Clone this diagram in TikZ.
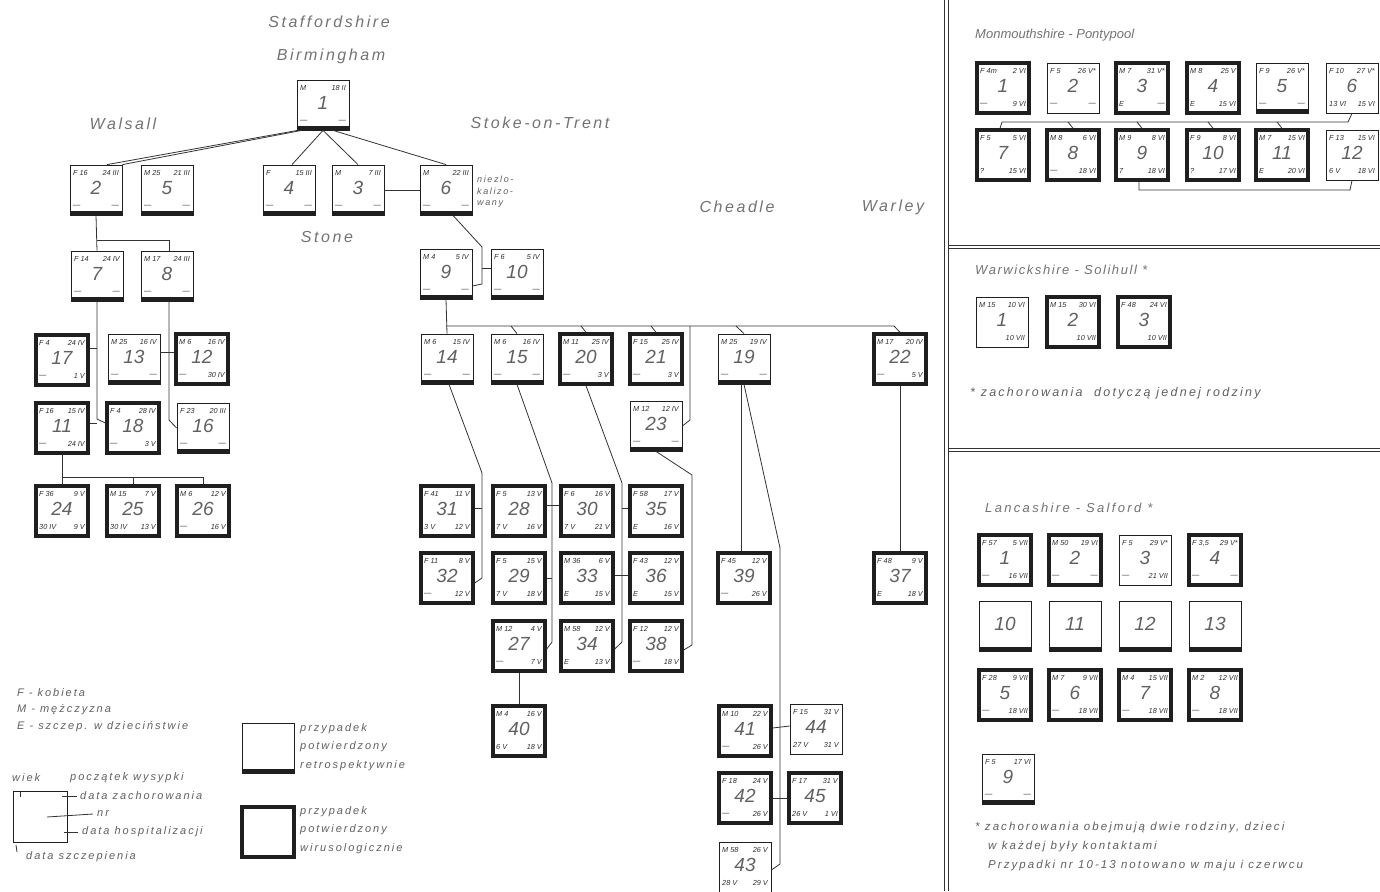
\documentclass[tikz,border=0pt]{standalone}
\usepackage{fontspec}
\setmainfont{Liberation Sans}
\newfontfamily\lbl[LetterSpace=16]{Liberation Sans}
\newfontfamily\lbs[LetterSpace=18]{Liberation Sans}
\newfontfamily\lbr[LetterSpace=12]{Liberation Sans}
\tikzset{
 base/.style={rectangle, minimum width=52pt, minimum height=50pt, inner sep=0pt, draw=black!88},
 vbox/.style={base, line width=3.4pt},
 rbox/.style={base, line width=0.8pt, path picture={\fill[black!88] ([yshift=3.6pt]path picture bounding box.south west) rectangle (path picture bounding box.south east);}},
 pbox/.style={base, line width=0.8pt},
 ct/.style={font=\fontsize{7.3}{8}\selectfont\itshape, text=black!82, inner sep=0pt},
 cn/.style={font=\fontsize{19}{20}\selectfont\itshape, text=black!62, inner sep=0pt},
 ttl/.style={font=\lbl\fontsize{16}{18}\selectfont\itshape, text=black!55, inner sep=0pt},
 rtl/.style={font=\lbr\fontsize{13}{15}\selectfont\itshape, text=black!55, inner sep=0pt, anchor=west},
 note/.style={font=\lbs\fontsize{11}{18.5}\selectfont\itshape, text=black!62, inner sep=0pt, anchor=west},
 fnote/.style={font=\lbs\fontsize{12.5}{14}\selectfont\itshape, text=black!62, inner sep=0pt, anchor=west},
 link/.style={draw=black!80, line width=0.8pt},
 sep/.style={draw=black!80, line width=0.9pt},
}
\newcommand{\casebox}[8]{%
 \node[#3] (#1) at (#2) {};
 \node[ct,anchor=west] (#1-tl) at ([shift={(-23,-17)}]#1.center) {#4};
 \node[ct,anchor=east] (#1-tr) at ([shift={(23,-17)}]#1.center) {#5};
 \node[cn] (#1-n) at ([shift={(0,-2)}]#1.center) {#6};
 \node[ct,anchor=west] (#1-bl) at ([shift={(-23,16)}]#1.center) {#7};
 \node[ct,anchor=east] (#1-br) at ([shift={(23,16)}]#1.center) {#8};
}
\begin{document}
\begin{tikzpicture}[x=1pt,y=-1pt]
\fill[white] (0,0) rectangle (1380,891);
\useasboundingbox (0,0) rectangle (1380,891);

% titles
\node[ttl] (tStaff) at (329,22) {Staffordshire};
\node[ttl] (tBirm) at (331,56) {Birmingham};
\node[ttl] (tWals) at (123,124) {Walsall};
\node[ttl] (tStone) at (327,237) {Stone};
\node[ttl] (tStoke) at (540,123) {Stoke-on-Trent};
\node[ttl] (tChead) at (737,207) {Cheadle};
\node[ttl] (tWarl) at (893,207) {Warley};

% main tree boxes
\casebox{b1}{323,105}{rbox}{M}{18 II}{1}{—}{—}
\casebox{b2}{96,190}{rbox}{F 16}{24 III}{2}{—}{—}
\casebox{b5}{167,190}{rbox}{M 25}{21 III}{5}{—}{—}
\casebox{b4}{289,190}{rbox}{F}{15 III}{4}{—}{—}
\casebox{b3}{358,190}{rbox}{M}{7 III}{3}{—}{—}
\casebox{b6}{446,190}{rbox}{M}{22 III}{6}{—}{—}
\casebox{b7}{97,276}{rbox}{F 14}{24 IV}{7}{—}{—}
\casebox{b8}{167,276}{rbox}{M 17}{24 III}{8}{—}{—}
\casebox{b17}{62,360}{vbox}{F 4}{24 IV}{17}{—}{1 V}
\casebox{b13}{134,359}{rbox}{M 25}{16 IV}{13}{—}{—}
\casebox{b12}{202,359}{vbox}{M 6}{16 IV}{12}{—}{30 IV}
\casebox{b11}{62,428}{vbox}{F 16}{15 IV}{11}{—}{24 IV}
\casebox{b18}{133,428}{vbox}{F 4}{28 IV}{18}{—}{3 V}
\casebox{b16}{203,428}{rbox}{F 23}{20 III}{16}{—}{—}
\casebox{b24}{62,511}{vbox}{F 36}{9 V}{24}{30 IV}{9 V}
\casebox{b25}{133,511}{vbox}{M 15}{7 V}{25}{30 IV}{13 V}
\casebox{b26}{203,511}{vbox}{M 6}{12 V}{26}{—}{16 V}
\casebox{b9}{446,274}{rbox}{M 4}{5 IV}{9}{—}{—}
\casebox{b10}{517,274}{rbox}{F 6}{5 IV}{10}{—}{—}
\casebox{b14}{447,359}{rbox}{M 6}{15 IV}{14}{—}{—}
\casebox{b15}{517,359}{rbox}{M 6}{16 IV}{15}{—}{—}
\casebox{b20}{586,359}{vbox}{M 11}{25 IV}{20}{—}{3 V}
\casebox{b21}{656,359}{vbox}{F 15}{25 IV}{21}{—}{3 V}
\casebox{b23}{656,426}{rbox}{M 12}{12 IV}{23}{—}{—}
\casebox{b19}{744,359}{rbox}{M 25}{19 IV}{19}{—}{—}
\casebox{b22}{900,359}{vbox}{M 17}{20 IV}{22}{—}{5 V}
\casebox{b31}{447,511}{vbox}{F 41}{11 V}{31}{3 V}{12 V}
\casebox{b28}{519,511}{vbox}{F 5}{13 V}{28}{7 V}{16 V}
\casebox{b30}{587,511}{vbox}{F 6}{16 V}{30}{7 V}{21 V}
\casebox{b35}{656,511}{vbox}{F 58}{17 V}{35}{E}{16 V}
\casebox{b32}{447,578}{vbox}{F 11}{8 V}{32}{—}{12 V}
\casebox{b29}{519,578}{vbox}{F 5}{15 V}{29}{7 V}{18 V}
\casebox{b33}{587,578}{vbox}{M 36}{6 V}{33}{E}{15 V}
\casebox{b36}{656,578}{vbox}{F 43}{12 V}{36}{E}{15 V}
\casebox{b27}{519,646}{vbox}{M 12}{4 V}{27}{—}{7 V}
\casebox{b34}{587,646}{vbox}{M 58}{12 V}{34}{E}{13 V}
\casebox{b38}{656,646}{vbox}{F 12}{12 V}{38}{—}{18 V}
\casebox{b40}{519,731}{vbox}{M 4}{16 V}{40}{6 V}{18 V}
\casebox{b39}{744,578}{vbox}{F 45}{12 V}{39}{—}{26 V}
\casebox{b37}{900,578}{vbox}{F 48}{9 V}{37}{E}{18 V}
\casebox{b41}{745,731}{vbox}{M 10}{22 V}{41}{—}{26 V}
\casebox{b44}{816,729}{pbox}{F 15}{31 V}{44}{27 V}{31 V}
\casebox{b42}{745,798}{vbox}{F 18}{24 V}{42}{—}{26 V}
\casebox{b45}{815,798}{vbox}{F 17}{31 V}{45}{26 V}{1 VI}
\casebox{b43}{745,867}{pbox}{M 58}{26 V}{43}{28 V}{29 V}

\node[note, font=\lbs\fontsize{9}{11.5}\selectfont\itshape, align=left] (nloc) at (477,192) {niezlo-\\kalizo-\\wany};

% connectors: Birmingham
\draw[link] ([xshift=1pt]b1.south west) -- ([xshift=11pt]b2.north);
\draw[link] ([xshift=5pt]b1.south west) -- (b2.north east);
\draw[link] (b1.south) -- ([xshift=3pt]b4.north);
\draw[link] (b1.south) -- (b3.north);
\draw[link] ([xshift=10pt]b1.south) -- (b6.north);
\draw[link] (b3.east) -- (b6.west);
% Walsall
\draw[link] (b2.south) -- (b7.north);
\coordinate (j1) at (97,240);
\draw[link] (j1) -| ([xshift=2pt]b8.north);
\draw[link] (b7.south) -- (97,419) -- ([yshift=5pt]b18.west);
\draw[link] ([yshift=12pt]b17.east) -- (97,348);
\draw[link] ([yshift=5pt]b11.east) -- (97,423);
\draw[link] ([xshift=2pt]b8.south) -- (169,420) -- (b16.west);
\draw[link] ([yshift=7pt]b13.east) -- ([yshift=7pt]b12.west);
\coordinate (j2) at (62,477);
\draw[link] (b11.south) -- (b24.north);
\draw[link] (j2) -| (b26.north);
\draw[link] (j2 -| b25.north) -- (b25.north);
% Stoke
\draw[link] ([xshift=7pt]b6.south) -- (482,247) -- (482,284) -- ([yshift=-12pt]b9.east);
\draw[link] (482,268) -- ([yshift=6pt]b10.west);
\draw[link] (b9.south) -- (b14.north);
\coordinate (j3) at (446,326);
\draw[link] (j3) -- (894,326) -- (b22.north);
\draw[link] (511,326) -- (b15.north);
\draw[link] (581,326) -- (b20.north);
\draw[link] (651,326) -- (b21.north);
\draw[link] (736,326) -- (b19.north);
\draw[link] (690,326) -- (690,420) -- (b23.east);
\draw[link] ([xshift=2pt]b14.south) -- (482,473) -- (482,578) -- ([yshift=-5pt]b32.east);
\draw[link] ([yshift=3pt]b31.east) -- (482,508);
\draw[link] (b15.south) -- (552,483) -- (552,642) -- ([yshift=-3pt]b27.east);
\draw[link] ([yshift=6pt]b28.east) -- ([yshift=6pt]b30.west);
\draw[link] (b29.east) -- (552,578);
\draw[link] (b20.south) -- (622,483) -- (622,642) -- ([yshift=-3pt]b34.east);
\draw[link] ([yshift=3pt]b35.west) -- (622,508);
\draw[link] ([yshift=3pt]b33.east) -- ([yshift=3pt]b36.west);
\draw[link] (b23.south) -- (692,475) -- (692,645) -- ([yshift=-4pt]b38.east);
\draw[link] (b27.south) -- (b40.north);
\draw[link] ([xshift=-3pt]b19.south) -- ([xshift=-3pt]b39.north);
\draw[link] (b19.south) -- (780,548) -- (780,864) -- ([yshift=-3pt]b43.east);
\draw[link] ([yshift=3pt]b41.east) -- ([yshift=3pt]b44.west);
\draw[link] (b42.east) -- (b45.west);
\draw[link] (b22.south) -- (b37.north);

% legend
\node[note] (lF) at (17,693) {F - kobieta};
\node[note] (lM) at (17,710) {M - mężczyzna};
\node[note] (lE) at (17,727) {E - szczep. w dzieciństwie};
\node[pbox, minimum width=54pt, minimum height=51pt] (lg) at (40,817) {};
\node[note] (lwiek) at (12,778) {wiek};
\node[note] (lpocz) at (70,778) {początek wysypki};
\node[note] (lzach) at (80,796) {data zachorowania};
\node[note] (lnr) at (97,814) {nr};
\node[note] (lhosp) at (82,832) {data hospitalizacji};
\node[note] (lszcz) at (26,857) {data szczepienia};
\draw[link] ([xshift=7pt]lg.center) -- ([xshift=-4pt]lnr.west);
\draw[link] (62,796) -- ([xshift=-3pt]lzach.west);
\draw[link] (64,832) -- ([xshift=-4pt]lhosp.west);
\draw[link] (20,792) -- (20,797);
\draw[link] (16,845) -- (17,852);
\node[rbox] (lret) at (268,748) {};
\node[note, align=left] (tret) at (300,747) {przypadek\\potwierdzony\\retrospektywnie};
\node[vbox] (lwir) at (268,832) {};
\node[note, align=left] (twir) at (300,830) {przypadek\\potwierdzony\\wirusologicznie};

% right panel separators
\draw[sep] (944,0) -- (944,891);
\draw[sep] (948,0) -- (948,891);
\draw[sep] (948,245) -- (1380,245);
\draw[sep] (948,248.5) -- (1380,248.5);
\draw[sep] (948,448) -- (1380,448);
\draw[sep] (948,451.5) -- (1380,451.5);

% Monmouthshire
\node[rtl, font=\fontsize{13}{15}\selectfont\itshape] (tMon) at (975,35) {Monmouthshire - Pontypool};
\casebox{m1}{1003,88}{vbox}{F 4m}{2 VI}{1}{—}{9 VI}
\casebox{m2}{1073,88}{pbox}{F 5}{26 V*}{2}{—}{—}
\casebox{m3}{1142,88}{vbox}{M 7}{31 V*}{3}{E}{—}
\casebox{m4}{1213,88}{vbox}{M 8}{25 V}{4}{E}{15 VI}
\casebox{m5}{1282,88}{rbox}{F 9}{26 V*}{5}{—}{—}
\casebox{m6}{1352,88}{pbox}{F 10}{27 V*}{6}{13 VI}{15 VI}
\casebox{m7}{1003,155}{vbox}{F 5}{5 VI}{7}{?}{15 VI}
\casebox{m8}{1073,155}{vbox}{M 8}{6 VI}{8}{—}{18 VI}
\casebox{m9}{1142,155}{vbox}{M 9}{8 VI}{9}{7}{18 VI}
\casebox{m10}{1213,155}{vbox}{F 9}{8 VI}{10}{?}{17 VI}
\casebox{m11}{1282,155}{vbox}{M 7}{15 VI}{11}{E}{20 VI}
\casebox{m12}{1352,155}{pbox}{F 13}{15 VI}{12}{6 V}{18 VI}
\draw[link] (m6.south) -- (1348,122) -- (1002,122) -- ([xshift=-3pt]m7.north);
\draw[link] (1068,122) -- (m8.north);
\draw[link] (1137,122) -- (m9.north);
\draw[link] (1208,122) -- (m10.north);
\draw[link] (1277,122) -- (m11.north);
\draw[link] ([xshift=-3pt]m9.south) -- (1139,190) -- (1350,190) -- (m12.south);

% Warwickshire
\node[rtl] (tWar) at (975,270) {Warwickshire - Solihull *};
\casebox{w1}{1002,322}{pbox}{M 15}{10 VI}{1}{}{10 VII}
\casebox{w2}{1073,322}{vbox}{M 15}{30 VI}{2}{}{10 VII}
\casebox{w3}{1144,322}{vbox}{F 48}{24 VI}{3}{}{10 VII}
\node[fnote] (fn1) at (970,393) {* zachorowania\ \ dotyczą jednej rodziny};

% Lancashire
\node[rtl, font=\lbs\fontsize{13}{15}\selectfont\itshape] (tLan) at (985,508) {Lancashire - Salford *};
\casebox{l1}{1005,560}{vbox}{F 57}{5 VII}{1}{—}{16 VII}
\casebox{l2}{1075,560}{vbox}{M 50}{19 VI}{2}{—}{—}
\casebox{l3}{1145,560}{pbox}{F 5}{29 V*}{3}{—}{21 VII}
\casebox{l4}{1215,560}{vbox}{F 3,5}{29 V*}{4}{—}{—}
\casebox{l10}{1005,626}{rbox}{}{}{10}{}{}
\casebox{l11}{1075,626}{rbox}{}{}{11}{}{}
\casebox{l12}{1145,626}{rbox}{}{}{12}{}{}
\casebox{l13}{1215,626}{rbox}{}{}{13}{}{}
\casebox{l5}{1005,695}{vbox}{F 28}{9 VII}{5}{—}{18 VII}
\casebox{l6}{1075,695}{vbox}{M 7}{9 VII}{6}{—}{18 VII}
\casebox{l7}{1145,695}{vbox}{M 4}{15 VII}{7}{—}{18 VII}
\casebox{l8}{1215,695}{vbox}{M 2}{12 VII}{8}{—}{18 VII}
\casebox{l9}{1008,779}{rbox}{F 5}{17 VI}{9}{—}{—}
\node[fnote, font=\lbs\fontsize{11.5}{13}\selectfont\itshape] (fn2) at (975,828) {* zachorowania obejmują dwie rodziny, dzieci};
\node[fnote, font=\lbs\fontsize{11.5}{13}\selectfont\itshape] (fn3) at (988,847) {w każdej były kontaktami};
\node[fnote, font=\lbs\fontsize{11.5}{13}\selectfont\itshape] (fn4) at (988,866) {Przypadki nr 10-13 notowano w maju i czerwcu};
\end{tikzpicture}
\end{document}
